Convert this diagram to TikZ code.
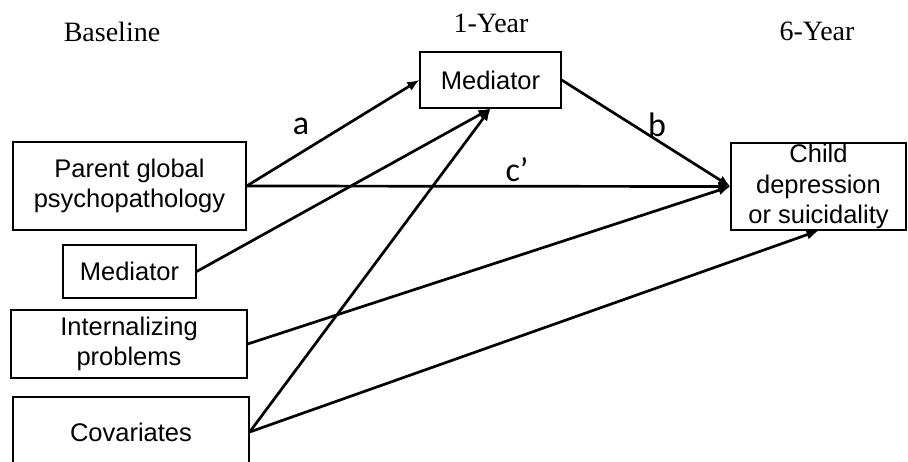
\documentclass[tikz,border=0pt]{standalone}
\usepackage{fontspec}
\setmainfont{Liberation Serif}
\newfontfamily\boxfont{Liberation Sans}
\newfontfamily\lblfont{Carlito}
\usetikzlibrary{arrows.meta}
\begin{document}
\begin{tikzpicture}[x=1pt,y=-1pt,
  box/.style={draw, line width=1.3pt, fill=white, inner sep=0pt, align=center,
    font=\boxfont\fontsize{25.5}{30.5}\selectfont},
  hdr/.style={anchor=base, inner sep=0pt, font=\fontsize{28}{32}\selectfont},
  lbl/.style={inner sep=0pt, font=\lblfont\fontsize{34}{38}\selectfont},
  arr/.style={line width=2.7pt, -{Latex[length=12pt,width=10pt]}}]
\useasboundingbox (0,0) rectangle (908,461);
\node[hdr] (h1) at (112,41) {Baseline};
\node[hdr] (h2) at (491,32) {1-Year};
\node[hdr] (h3) at (817,40) {6-Year};

\node[box, minimum width=233pt, minimum height=88pt] (par) at (129.5,186) {Parent global\\psychopathology};
\node[box, minimum width=141pt, minimum height=56pt] (med) at (490.5,80) {Mediator};
\node[box, minimum width=175pt, minimum height=87pt] (child) at (818.5,186.5) {Child\\depression\\or suicidality};
\node[box, minimum width=133pt, minimum height=53pt] (med0) at (129.5,271.5) {Mediator};
\node[box, minimum width=236pt, minimum height=68pt] (int) at (129,344) {Internalizing\\problems};
\node[box, minimum width=236pt, minimum height=76pt] (cov) at (131,435) {};
\node[inner sep=0pt, font=\boxfont\fontsize{25.5}{30.5}\selectfont] (covt) at (131,432) {Covariates};

\draw[arr] (par.east) -- (med.west);
\draw[arr] (par.east) -- (child.west);
\draw[arr] (med.east) -- (child.west);
\node[lbl] (la) at (301,126) {a};
\node[lbl] (lb) at (657,125) {b};
\node[lbl] (lc) at (517,170) {c’};
\draw[arr] (med0.east) -- (med.south);
\draw[arr] (cov.east |- covt) -- (med.south);
\draw[arr] (int.east) -- (child.west);
\draw[arr] (cov.east |- covt) -- (child.south);
\end{tikzpicture}
\end{document}
